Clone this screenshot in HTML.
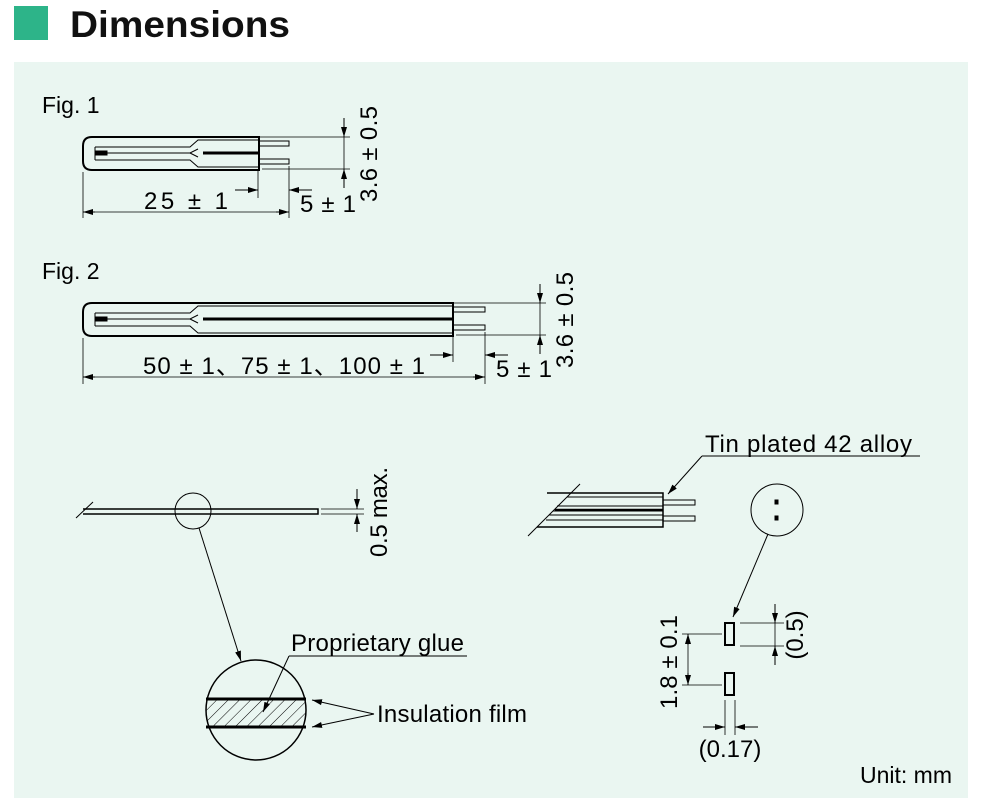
<!DOCTYPE html>
<html><head><meta charset="utf-8"><style>
html,body{margin:0;padding:0;background:#fff;}
svg{display:block;font-family:"Liberation Sans",sans-serif;}
</style></head><body>
<svg width="986" height="806" viewBox="0 0 986 806" xmlns="http://www.w3.org/2000/svg">
<defs>
<marker id="a" viewBox="0 0 10 6" refX="10" refY="3" markerWidth="10" markerHeight="6" orient="auto" markerUnits="userSpaceOnUse"><path d="M0,0 L10,3 L0,6 Z" fill="#000"/></marker>
<pattern id="h" width="8" height="8" patternUnits="userSpaceOnUse" patternTransform="rotate(45)"><line x1="0" y1="0" x2="0" y2="8" stroke="#000" stroke-width="1"/></pattern>
<clipPath id="cc"><circle cx="256" cy="710" r="50"/></clipPath>
</defs>
<rect x="14" y="6" width="34" height="34" fill="#2db489"/>
<text x="70" y="37" font-size="37" font-weight="bold" fill="#111" textLength="220" lengthAdjust="spacingAndGlyphs">Dimensions</text>
<rect x="14" y="62" width="954" height="736" fill="#eaf6f1"/>

<g fill="none" stroke="#000" stroke-width="1">
<!-- Fig 1 -->
<text x="42" y="113" font-size="23" fill="#000" stroke="none">Fig. 1</text>
<path d="M92,137 H259 V170 H92 Q83,170 83,161 V146 Q83,137 92,137 Z" stroke-width="2"/>
<path d="M95,147 H190 L198,140 H259 M95,160 H190 L198,167 H259 M95,147 V160" stroke-width="1"/>
<path d="M102,153 H190 L198,149 M198,157 L190,153" stroke-width="1"/>
<rect x="95" y="151" width="12" height="4" fill="#000"/>
<path d="M203,153 H259" stroke-width="3"/>
<path d="M259,141 H289 V146 H259 M259,159 H289 V164 H259"/>
<path d="M259,137 H350 M262,169 H350" stroke-width="0.8"/>
<path d="M344,118 V137" marker-end="url(#a)"/><path d="M344,188 V169" marker-end="url(#a)"/>
<path d="M344,137 V169" stroke-width="0.8"/>
<path d="M83,172 V218 M289,166 V218 M258,171 V198" stroke-width="0.8"/>
<path d="M86,212 H286" stroke-width="0.8"/>
<path d="M95,212 H83" marker-end="url(#a)"/><path d="M276,212 H289" marker-end="url(#a)"/>
<path d="M235,190 H258" marker-end="url(#a)"/><path d="M312,190 H289" marker-end="url(#a)"/>
<text x="144" y="209" font-size="24" fill="#000" stroke="none" textLength="84" lengthAdjust="spacing">25 ± 1</text>
<text x="300" y="212" font-size="24" fill="#000" stroke="none" textLength="56" lengthAdjust="spacing">5 ± 1</text>
<text transform="translate(377,154) rotate(-90)" text-anchor="middle" font-size="24" fill="#000" stroke="none" textLength="96" lengthAdjust="spacing">3.6 ± 0.5</text>

<!-- Fig 2 -->
<text x="42" y="279" font-size="23" fill="#000" stroke="none">Fig. 2</text>
<path d="M92,303 H453 V336 H92 Q83,336 83,327 V312 Q83,303 92,303 Z" stroke-width="2"/>
<path d="M95,313 H190 L198,306 H453 M95,326 H190 L198,333 H453 M95,313 V326"/>
<path d="M102,319 H190 L198,315 M198,323 L190,319"/>
<rect x="95" y="317" width="12" height="4" fill="#000"/>
<path d="M203,319 H453" stroke-width="3"/>
<path d="M453,307 H485 V312 H453 M453,325 H485 V330 H453"/>
<path d="M453,303 H546 M456,335 H546" stroke-width="0.8"/>
<path d="M540,284 V303" marker-end="url(#a)"/><path d="M540,354 V335" marker-end="url(#a)"/>
<path d="M540,303 V335" stroke-width="0.8"/>
<path d="M83,338 V384 M485,332 V384 M453,337 V362" stroke-width="0.8"/>
<path d="M86,377 H482" stroke-width="0.8"/>
<path d="M95,377 H83" marker-end="url(#a)"/><path d="M473,377 H485" marker-end="url(#a)"/>
<path d="M430,355 H453" marker-end="url(#a)"/><path d="M508,355 H485" marker-end="url(#a)"/>
<text x="143" y="374" font-size="24" fill="#000" stroke="none" textLength="282" lengthAdjust="spacing">50 ± 1、75 ± 1、100 ± 1</text>
<text x="496" y="377" font-size="24" fill="#000" stroke="none" textLength="56" lengthAdjust="spacing">5 ± 1</text>
<text transform="translate(573,320) rotate(-90)" text-anchor="middle" font-size="24" fill="#000" stroke="none" textLength="96" lengthAdjust="spacing">3.6 ± 0.5</text>

<!-- side view -->
<path d="M83,509 H318 V514 H83" stroke-width="1.5"/>
<path d="M76,518 L93,502"/>
<circle cx="193" cy="511" r="18"/>
<path d="M321,509 H364 M321,514 H364" stroke-width="0.8"/>
<path d="M357,489 V509" marker-end="url(#a)"/><path d="M357,532 V514" marker-end="url(#a)"/>
<text transform="translate(387,512) rotate(-90)" text-anchor="middle" font-size="24" fill="#000" stroke="none" textLength="90" lengthAdjust="spacing">0.5 max.</text>
<path d="M199,528 L241,661" marker-end="url(#a)"/>

<!-- magnified -->
<g clip-path="url(#cc)"><rect x="200" y="699" width="120" height="28" fill="url(#h)"/></g>
<circle cx="256" cy="710" r="50" stroke-width="1.5"/>
<path d="M206,699 H306 M206,727 H306" stroke-width="3"/>
<path d="M289,656 H467" /><path d="M289,656 L263,712" marker-end="url(#a)"/>
<text x="291" y="651" font-size="24" fill="#000" stroke="none" textLength="173" lengthAdjust="spacing">Proprietary glue</text>
<path d="M374,714 L312,700" marker-end="url(#a)"/><path d="M374,714 L312,727" marker-end="url(#a)"/>
<text x="377" y="722" font-size="24" fill="#000" stroke="none" textLength="150" lengthAdjust="spacing">Insulation film</text>

<!-- right cable -->
<path d="M547,493 H663 V527 H537" stroke-width="1.5"/>
<path d="M567,497 H663 M557,506 H663 M553,511 H663 M549,515 H663 M546,520 H663" stroke-width="1"/>
<path d="M555,510 H663" stroke-width="2.5"/>
<path d="M528,536 L580,484"/>
<path d="M663,500 H695 V505 H663 M663,516 H695 V521 H663"/>
<path d="M702,456 H920"/><path d="M702,456 L668,494" marker-end="url(#a)"/>
<text x="705" y="452" font-size="24" fill="#000" stroke="none" textLength="207" lengthAdjust="spacing">Tin plated 42 alloy</text>
<circle cx="777" cy="510" r="26"/>
<rect x="775" y="500" width="3" height="4" fill="#000"/><rect x="775" y="516" width="3" height="4" fill="#000"/>
<path d="M768,534 L733,617" marker-end="url(#a)"/>
<rect x="725" y="623" width="9" height="22" stroke-width="2"/>
<rect x="725" y="673" width="9" height="22" stroke-width="2"/>
<path d="M740,623 H784 M740,646 H784" stroke-width="0.8"/>
<path d="M775,604 V623" marker-end="url(#a)"/><path d="M775,665 V646" marker-end="url(#a)"/>
<path d="M775,623 V646" stroke-width="0.8"/>
<text transform="translate(803,635) rotate(-90)" text-anchor="middle" font-size="24" fill="#000" stroke="none">(0.5)</text>
<path d="M682,634 H722 M682,685 H722" stroke-width="0.8"/>
<path d="M688,645 V634" marker-end="url(#a)"/><path d="M688,673 V685" marker-end="url(#a)"/>
<path d="M688,640 V680" stroke-width="0.8"/>
<text transform="translate(677,662) rotate(-90)" text-anchor="middle" font-size="24" fill="#000" stroke="none" textLength="94" lengthAdjust="spacing">1.8 ± 0.1</text>
<path d="M725,700 V735 M735,700 V735" stroke-width="0.8"/>
<path d="M703,727 H725" marker-end="url(#a)"/><path d="M758,727 H735" marker-end="url(#a)"/>
<text x="730" y="757" text-anchor="middle" font-size="24" fill="#000" stroke="none">(0.17)</text>

<text x="952" y="783" text-anchor="end" font-size="23" fill="#000" stroke="none">Unit: mm</text>
</g>
</svg>
</body></html>
